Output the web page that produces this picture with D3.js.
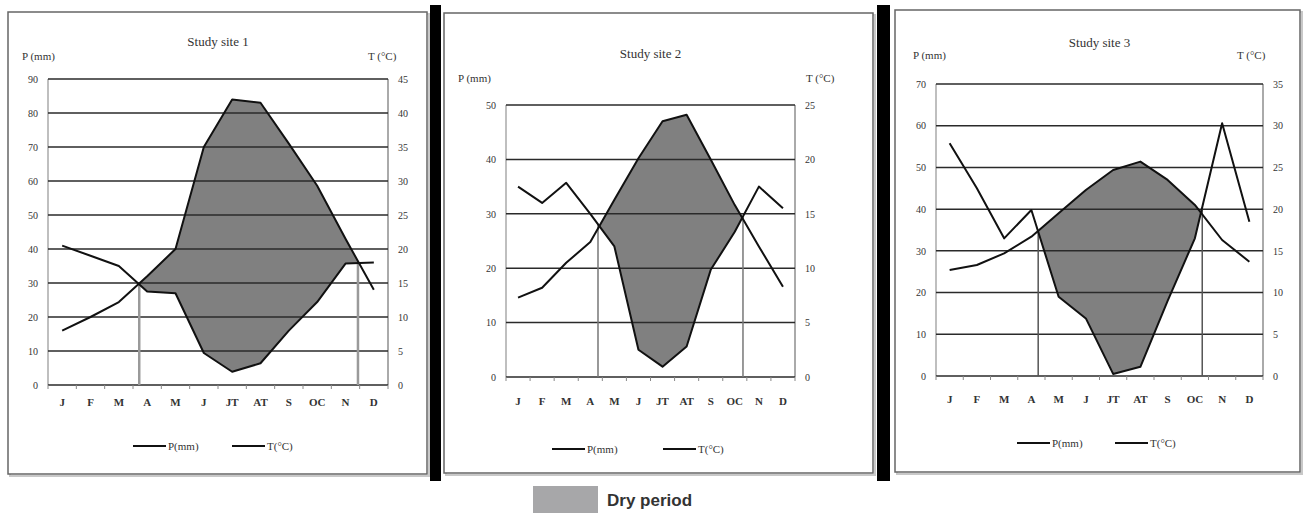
<!DOCTYPE html>
<html><head><meta charset="utf-8">
<script src="https://cdn.jsdelivr.net/npm/d3@7"></script>
<style>
body{margin:0;background:#fff;}
text{font-family:"Liberation Serif","Times New Roman",serif;fill:#333;}
</style></head>
<body><svg id="c" width="1303" height="514"></svg>
<script>
const months = ["J","F","M","A","M","J","JT","AT","S","OC","N","D"];

const site1P = [41, 38, 35, 27.5, 27, 9.4, 3.9, 6.4, 16, 24.4, 35.7, 36];
const site1T = [8, 10, 12.2, 16, 20, 35, 42, 41.5, 35.5, 29.3, 21.5, 14];
const site1Dry = [2.72, 10.44];
const site1PTicks = [0,10,20,30,40,50,60,70,80,90];
const site1TTicks = [0,5,10,15,20,25,30,35,40,45];

const site2P = [35, 32, 35.7, 30, 24, 5, 1.9, 5.6, 19.7, 26.7, 35, 31];
const site2T = [7.3, 8.2, 10.5, 12.4, 16.3, 20.1, 23.5, 24.1, 20, 15.8, 12, 8.3];
const site2Dry = [3.32, 9.34];
const site2PTicks = [0,10,20,30,40,50];
const site2TTicks = [0,5,10,15,20,25];

const site3P = [55.8, 45, 33, 39.8, 19, 13.8, 0.5, 2.2, 18, 33, 60.6, 37];
const site3T = [12.7, 13.3, 14.7, 16.7, 19.5, 22.3, 24.7, 25.7, 23.5, 20.5, 16.3, 13.7];
const site3Dry = [3.25, 9.27];
const site3PTicks = [0,10,20,30,40,50,60,70];
const site3TTicks = [0,5,10,15,20,25,30,35];

const titles = ["Study site 1","Study site 2","Study site 3"];
const legendLabels = ["P(mm)","T(°C)"];
const dryLabel = "Dry period";

const svg = d3.select("#c");

// separators
[[430,11],[877,13]].forEach(([x,w])=>{
  svg.append("rect").attr("x",x).attr("y",5).attr("width",w).attr("height",476).attr("fill","#000");
});

const panels = [
  {P:site1P,T:site1T,dry:site1Dry,pt:site1PTicks,tt:site1TTicks,title:titles[0],
   box:[8,12,427,474], plot:[48,79,388,385], titleY:46, axTitleY:60, pTitleX:22, tTitleX:368,
   xLabY:406, legY:446, leg:[133,232], dryCol:"#9a9a9a", dryW:2.5},
  {P:site2P,T:site2T,dry:site2Dry,pt:site2PTicks,tt:site2TTicks,title:titles[1],
   box:[444,13,873,473], plot:[506,105,795,377], titleY:58, axTitleY:82, pTitleX:458, tTitleX:806,
   xLabY:405, legY:449, leg:[552,663], dryCol:"#777", dryW:1.5},
  {P:site3P,T:site3T,dry:site3Dry,pt:site3PTicks,tt:site3TTicks,title:titles[2],
   box:[895,10,1300,472], plot:[936,84,1263,376], titleY:47, axTitleY:59, pTitleX:913, tTitleX:1237,
   xLabY:403, legY:443, leg:[1017,1115], dryCol:"#555", dryW:1.5}
];

panels.forEach((p,k)=>{
  const g = svg.append("g");
  const [bx0,by0,bx1,by1] = p.box;
  g.append("rect").attr("x",bx0+2).attr("y",by0+2).attr("width",bx1-bx0).attr("height",by1-by0)
    .attr("fill","none").attr("stroke","#c8c8c8").attr("stroke-width",2);
  g.append("rect").attr("x",bx0).attr("y",by0).attr("width",bx1-bx0).attr("height",by1-by0)
    .attr("fill","#fff").attr("stroke","#666").attr("stroke-width",1.5);

  const [x0,y0,x1,y1] = p.plot;
  const x = d3.scaleBand().domain(d3.range(12)).range([x0,x1]).paddingInner(0).paddingOuter(0);
  const bw = x.bandwidth();
  const cx = i => x(i) + bw/2;
  const yP = d3.scaleLinear().domain([0, d3.max(p.pt)]).range([y1,y0]);
  const yT = d3.scaleLinear().domain([0, d3.max(p.tt)]).range([y1,y0]);

  g.append("line").attr("x1",x0).attr("x2",x0).attr("y1",y0).attr("y2",y1).attr("stroke","#aaa").attr("stroke-width",1.5);
  g.append("line").attr("x1",x1).attr("x2",x1).attr("y1",y0).attr("y2",y1).attr("stroke","#aaa").attr("stroke-width",2);

  const idx = d3.range(12);
  const curve = d3.curveLinear;
  const cid = "clip"+k;
  g.append("clipPath").attr("id",cid).append("path")
    .attr("d", d3.area().x(cx).y0(y0-5).y1(i=>yP(p.P[i])).curve(curve)(idx));
  g.append("path").attr("clip-path",`url(#${cid})`)
    .attr("d", d3.area().x(cx).y0(y1).y1(i=>yT(p.T[i])).curve(curve)(idx))
    .attr("fill","#808080");

  g.append("g").selectAll("line").data(p.pt).join("line")
    .attr("x1",x0).attr("x2",x1).attr("y1",d=>yP(d)).attr("y2",d=>yP(d))
    .attr("stroke","#2a2a2a").attr("stroke-width",1.5);

  const interp = (arr,t)=>{const i=Math.floor(t), f=t-i; return arr[i]*(1-f)+arr[i+1]*f;};
  p.dry.forEach(d=>{
    const xx = x0 + (d+0.5)*bw;
    g.append("line").attr("x1",xx).attr("x2",xx).attr("y1",y1).attr("y2",yP(interp(p.P,d)))
      .attr("stroke",p.dryCol).attr("stroke-width",p.dryW);
  });

  g.append("path").attr("d", d3.line().x(cx).y(i=>yP(p.P[i])).curve(curve)(idx))
    .attr("fill","none").attr("stroke","#111").attr("stroke-width",2).attr("stroke-linejoin","round");
  g.append("path").attr("d", d3.line().x(cx).y(i=>yT(p.T[i])).curve(curve)(idx))
    .attr("fill","none").attr("stroke","#111").attr("stroke-width",2).attr("stroke-linejoin","round");

  const ax = g.append("g").attr("transform",`translate(0,${y1})`)
    .call(d3.axisBottom(x).tickSize(0).tickFormat(i=>months[i]));
  ax.select(".domain").remove();
  ax.selectAll("text").attr("dy",0).attr("y",p.xLabY-y1).attr("font-size",11).attr("font-weight","bold").attr("fill","#444");
  g.append("g").selectAll("line").data(d3.range(13)).join("line")
    .attr("x1",i=>x0+i*bw).attr("x2",i=>x0+i*bw).attr("y1",y1).attr("y2",y1+4)
    .attr("stroke","#888").attr("stroke-width",1);

  const al = g.append("g").attr("transform",`translate(${x0},0)`)
    .call(d3.axisLeft(yP).tickValues(p.pt).tickSize(0).tickPadding(10));
  al.select(".domain").remove();
  al.selectAll("text").attr("font-size",10).attr("fill","#444");
  const ar = g.append("g").attr("transform",`translate(${x1},0)`)
    .call(d3.axisRight(yT).tickValues(p.tt).tickSize(0).tickPadding(10));
  ar.select(".domain").remove();
  ar.selectAll("text").attr("font-size",10).attr("fill","#444");

  g.append("text").attr("x",(x0+x1)/2).attr("y",p.titleY).attr("text-anchor","middle")
    .attr("font-size",13).attr("fill","#444").text(p.title);
  g.append("text").attr("x",p.pTitleX).attr("y",p.axTitleY).attr("font-size",11).attr("fill","#444").text("P (mm)");
  g.append("text").attr("x",p.tTitleX).attr("y",p.axTitleY).attr("font-size",11).attr("fill","#444").text("T (°C)");

  p.leg.forEach((lx,j)=>{
    g.append("line").attr("x1",lx).attr("x2",lx+33).attr("y1",p.legY).attr("y2",p.legY)
      .attr("stroke","#111").attr("stroke-width",2);
    g.append("text").attr("x",lx+35).attr("y",p.legY+4).attr("font-size",11).attr("fill","#444")
      .text(legendLabels[j]);
  });
});

svg.append("rect").attr("x",533).attr("y",486).attr("width",65).attr("height",27).attr("fill","#a7a7a9");
svg.append("text").attr("x",607).attr("y",506).attr("font-size",17).attr("font-weight","bold")
  .style("font-family","'Liberation Sans',Arial,sans-serif").attr("fill","#222").text(dryLabel);
</script>
</body></html>
